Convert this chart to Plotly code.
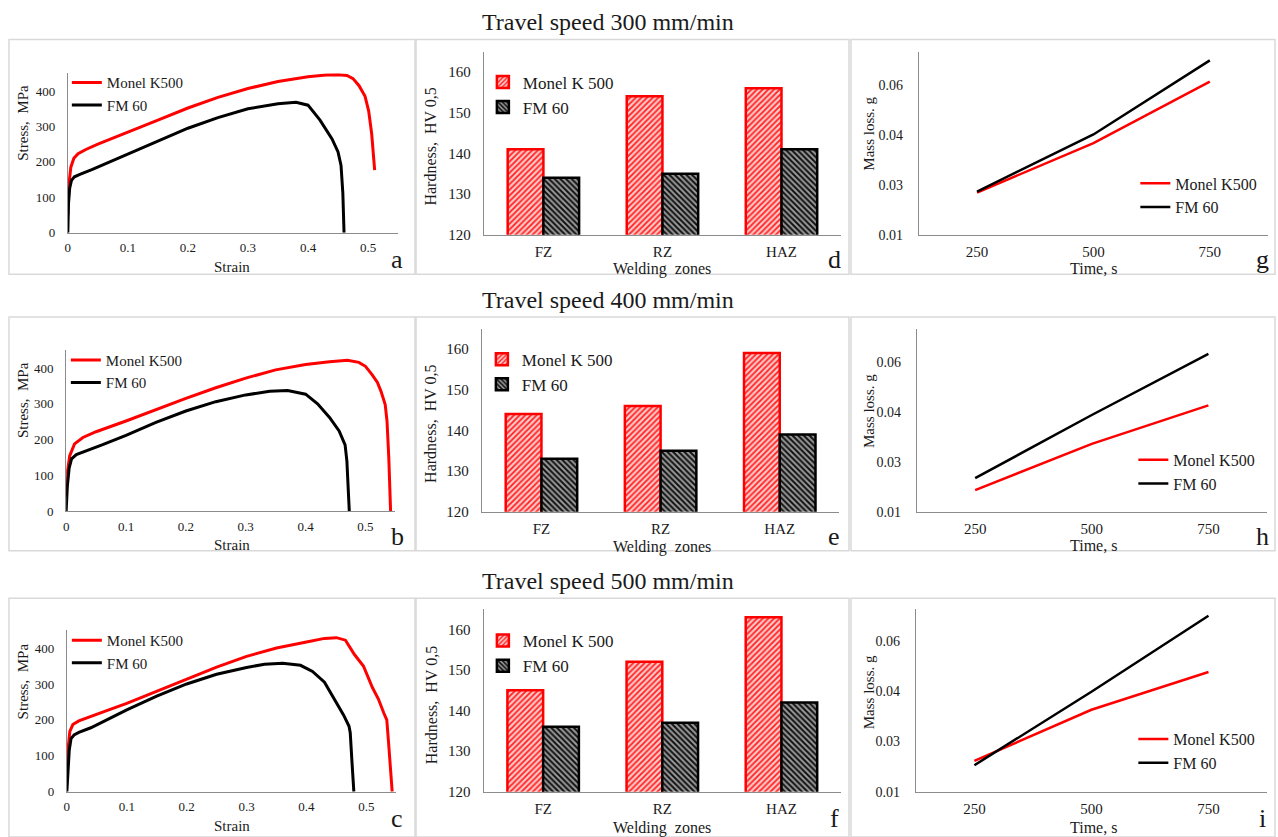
import plotly.graph_objects as go

W, H = 1278, 837
FONT = "Liberation Serif, Times New Roman, serif"

# ---------------- data ----------------
titles = ["Travel speed 300 mm/min", "Travel speed 400 mm/min", "Travel speed 500 mm/min"]
series_names = ["Monel K500", "FM 60"]
bar_names = ["Monel K 500", "FM 60"]
zones = ["FZ", "RZ", "HAZ"]
times = [250, 500, 750]

# stress-strain, 300 mm/min
a_monel_strain = [0, 0.002, 0.005, 0.01, 0.017, 0.03, 0.05, 0.1, 0.15, 0.2, 0.25, 0.3, 0.35, 0.4, 0.43, 0.45,
                  0.465, 0.475, 0.485, 0.495, 0.501, 0.506, 0.509, 0.511]
a_monel_stress = [50, 140, 185, 210, 223, 235, 250, 283, 318, 352, 382, 407, 427, 440, 445, 446,
                  444, 435, 415, 385, 344, 280, 230, 177]
a_fm_strain = [0, 0.001, 0.003, 0.006, 0.011, 0.02, 0.04, 0.07, 0.1, 0.15, 0.2, 0.25, 0.3, 0.35, 0.38, 0.4,
               0.42, 0.44, 0.45, 0.455, 0.458, 0.46]
a_fm_stress = [0, 80, 125, 148, 158, 165, 178, 200, 223, 260, 295, 325, 350, 364, 368, 360,
               318, 265, 228, 190, 112, 0]
# stress-strain, 400 mm/min
b_monel_strain = [0, 0.002, 0.006, 0.014, 0.028, 0.05, 0.1, 0.15, 0.2, 0.25, 0.3, 0.35, 0.4, 0.44, 0.47, 0.489,
                  0.5, 0.511, 0.52, 0.526, 0.533, 0.536, 0.539, 0.542]
b_monel_stress = [40, 110, 155, 188, 206, 222, 252, 284, 315, 345, 372, 395, 410, 418, 422, 416,
                  405, 382, 360, 335, 298, 252, 150, 0]
b_fm_strain = [0, 0.002, 0.005, 0.009, 0.017, 0.03, 0.06, 0.1, 0.15, 0.2, 0.25, 0.3, 0.34, 0.37, 0.4, 0.42,
               0.44, 0.456, 0.466, 0.469, 0.471, 0.473]
b_fm_stress = [0, 70, 120, 146, 158, 166, 185, 212, 248, 280, 306, 325, 335, 337, 327, 300,
               262, 224, 185, 140, 60, 0]
# stress-strain, 500 mm/min
c_monel_strain = [0, 0.002, 0.005, 0.01, 0.02, 0.04, 0.07, 0.1, 0.15, 0.2, 0.25, 0.3, 0.35, 0.4, 0.43, 0.45,
                  0.465, 0.48, 0.495, 0.51, 0.52, 0.529, 0.534, 0.537, 0.543]
c_monel_stress = [55, 120, 168, 187, 197, 210, 228, 246, 280, 313, 347, 377, 400, 417, 427, 429,
                  422, 382, 350, 290, 258, 219, 200, 136, 0]
c_fm_strain = [0, 0.002, 0.004, 0.007, 0.012, 0.02, 0.04, 0.07, 0.1, 0.15, 0.2, 0.25, 0.3, 0.33, 0.36, 0.39,
               0.41, 0.43, 0.45, 0.462, 0.471, 0.473, 0.476, 0.479]
c_fm_stress = [0, 70, 115, 148, 158, 165, 178, 203, 228, 266, 300, 327, 346, 355, 358, 352,
               335, 305, 247, 213, 182, 164, 80, 0]

# hardness HV 0.5
d_monel_hv = [141, 154, 156]
d_fm_hv = [134, 135, 141]
e_monel_hv = [144, 146, 159]
e_fm_hv = [133, 135, 139]
f_monel_hv = [145, 152, 163]
f_fm_hv = [136, 137, 142]

# mass loss, g
g_monel_loss = [0.0227, 0.0376, 0.0561]
g_fm_loss = [0.0230, 0.0402, 0.0625]
h_monel_loss = [0.0165, 0.0304, 0.0420]
h_fm_loss = [0.0201, 0.0391, 0.0575]
i_monel_loss = [0.0192, 0.0345, 0.0458]
i_fm_loss = [0.0179, 0.0399, 0.0626]

mass_tickvals = [0.01, 0.025, 0.04, 0.055]
mass_ticktext = ["0.01", "0.03", "0.04", "0.06"]
stress_ticks = [0, 100, 200, 300, 400]
strain_ticks = [0, 0.1, 0.2, 0.3, 0.4, 0.5]
hv_ticks = [120, 130, 140, 150, 160]

RED = "#ff0000"
BLACK = "#000000"
AXC = "#8c8c8c"
TXT = "#1a1a1a"


def px(x):
    return x / W


def py(y):
    return 1 - y / H


def fnt(size):
    return dict(family=FONT, size=size, color=TXT)


fig = go.Figure()

# panel geometry (pixels): x0, x1, ybottom, ytop
panels = {
    "a": (65, 396, 235, 74), "b": (63.3, 393.3, 516, 353.6), "c": (64, 394.3, 799.3, 636.2),
    "d": (482, 840, 237, 52), "e": (480, 838.3, 516.7, 331.7), "f": (481.7, 840, 799.3, 615),
    "g": (918, 1268, 237, 52.6), "h": (916, 1266.7, 516.7, 331.7), "i": (915, 1267, 799.3, 615),
}
order = ["a", "d", "g", "b", "e", "h", "c", "f", "i"]
axid = {k: ("" if n == 0 else str(n + 1)) for n, k in enumerate(order)}

stress_data = {
    "a": (a_monel_strain, a_monel_stress, a_fm_strain, a_fm_stress),
    "b": (b_monel_strain, b_monel_stress, b_fm_strain, b_fm_stress),
    "c": (c_monel_strain, c_monel_stress, c_fm_strain, c_fm_stress),
}
hv_data = {"d": (d_monel_hv, d_fm_hv), "e": (e_monel_hv, e_fm_hv), "f": (f_monel_hv, f_fm_hv)}
mass_data = {"g": (g_monel_loss, g_fm_loss), "h": (h_monel_loss, h_fm_loss), "i": (i_monel_loss, i_fm_loss)}
mass_top = {"g": 0.065, "h": 0.0651, "i": 0.0646}

# legend positions: (text start x, first row center y)
leg_pos = {
    "a": (106, 79), "b": (105, 359), "c": (106, 642),
    "d": (523, 77), "e": (522, 357), "f": (523, 641),
    "g": (1177, 180), "h": (1175, 459), "i": (1175, 741),
}

layout = dict(
    width=W, height=H, margin=dict(l=0, r=0, t=0, b=0),
    paper_bgcolor="white", plot_bgcolor="white",
    font=fnt(14),
    barmode="group", bargap=0.4, bargroupgap=0,
)

for k in order:
    s = axid[k]
    x0, x1, yb, yt = panels[k]
    xa = dict(domain=[px(x0), px(x1)], anchor="y" + s, showgrid=False, zeroline=False,
              showline=True, linecolor=AXC, linewidth=1, ticks="", fixedrange=True)
    ya = dict(domain=[py(yb), py(yt)], anchor="x" + s, showgrid=False, zeroline=False,
              showline=True, linecolor=AXC, linewidth=1, ticks="", fixedrange=True)
    lx, ly = leg_pos[k]
    lname = "legend" + s
    if k in stress_data:
        xs1, ys1, xs2, ys2 = stress_data[k]
        fig.add_trace(go.Scatter(x=xs1, y=ys1, mode="lines", name=series_names[0],
                                 line=dict(color=RED, width=3), xaxis="x" + s, yaxis="y" + s, legend=lname))
        fig.add_trace(go.Scatter(x=xs2, y=ys2, mode="lines", name=series_names[1],
                                 line=dict(color=BLACK, width=3), xaxis="x" + s, yaxis="y" + s, legend=lname))
        xa.update(range=[0, 0.55], tickvals=strain_ticks, tickfont=fnt(13), ticklabelstandoff=3)
        ya.update(range=[0, 450], tickvals=stress_ticks, tickfont=fnt(13), ticklabelstandoff=9)
        fsize = 15
    elif k in hv_data:
        v1, v2 = hv_data[k]
        fig.add_trace(go.Bar(x=zones, y=v1, name=bar_names[0], xaxis="x" + s, yaxis="y" + s, legend=lname,
                             marker=dict(color="#ffb0b0", line=dict(color=RED, width=2.5),
                                         pattern=dict(shape="/", fgcolor="#ff2020", bgcolor="#ffc8c8",
                                                      size=4, solidity=0.45, fillmode="replace"))))
        fig.add_trace(go.Bar(x=zones, y=v2, name=bar_names[1], xaxis="x" + s, yaxis="y" + s, legend=lname,
                             marker=dict(color="#555555", line=dict(color=BLACK, width=2.5),
                                         pattern=dict(shape="\\", fgcolor="#111111", bgcolor="#9a9a9a",
                                                      size=4, solidity=0.5, fillmode="replace"))))
        xa.update(type="category", tickfont=fnt(15), ticklabelstandoff=3)
        ya.update(range=[120, 165], tickvals=hv_ticks, tickfont=fnt(15), ticklabelstandoff=9)
        fsize = 17
    else:
        v1, v2 = mass_data[k]
        fig.add_trace(go.Scatter(x=times, y=v1, mode="lines", name=series_names[0],
                                 line=dict(color=RED, width=2.5), xaxis="x" + s, yaxis="y" + s, legend=lname))
        fig.add_trace(go.Scatter(x=times, y=v2, mode="lines", name=series_names[1],
                                 line=dict(color=BLACK, width=2.5), xaxis="x" + s, yaxis="y" + s, legend=lname))
        xa.update(range=[125, 875], tickvals=times, tickfont=fnt(15), ticklabelstandoff=3)
        ya.update(range=[0.01, mass_top[k]], tickvals=mass_tickvals, ticktext=mass_ticktext,
                  tickfont=fnt(14), ticklabelstandoff=12)
        fsize = 16
    layout["xaxis" + s] = xa
    layout["yaxis" + s] = ya
    layout[lname] = dict(x=px(lx - 42), y=py(ly - 12), xanchor="left", yanchor="top",
                         bgcolor="rgba(0,0,0,0)", font=fnt(fsize), itemwidth=30)

fig.update_layout(**layout)

# panel frames
rows_y = [(40, 277), (320, 556), (604, 845)]
cols_x = [(6, 413), (414, 848), (850, 1275)]
for (y0, y1) in rows_y:
    for (x0, x1) in cols_x:
        fig.add_shape(type="rect", xref="paper", yref="paper", x0=px(x0), x1=px(x1), y0=py(y1), y1=py(y0),
                      line=dict(color="#d9d9d9", width=1.5), fillcolor="rgba(0,0,0,0)", layer="below")


def note(text, x, y, size, angle=0):
    fig.add_annotation(text=text, x=px(x), y=py(y), xref="paper", yref="paper", showarrow=False,
                       textangle=angle, font=fnt(size), xanchor="center", yanchor="middle")


# titles
for t, ty in zip(titles, [22, 303, 587]):
    note(t, 606, ty, 24)

# axis titles and panel letters
for r, letters in enumerate([("a", "d", "g"), ("b", "e", "h"), ("c", "f", "i")]):
    off = [0, 280, 564][r]
    note("Strain", 230, 270 + off, 15)
    note("Stress,  MPa", 20, 124 + off, 15, -90)
    note("Welding  zones", 661, 272 + off, 16)
    note("Hardness,  HV 0,5", 429, 148 + off, 16, -90)
    note("Time, s", 1093, 271 + off, 16)
    note("Mass loss. g", 868, 135 + off, 15, -90)
    for L, lxp in zip(letters, [395, 833, 1262]):
        note(L, lxp, 262 + off, 26)

fig.write_html("out.html", config={"displayModeBar": False},
               post_script="document.body.style.margin='0';")
